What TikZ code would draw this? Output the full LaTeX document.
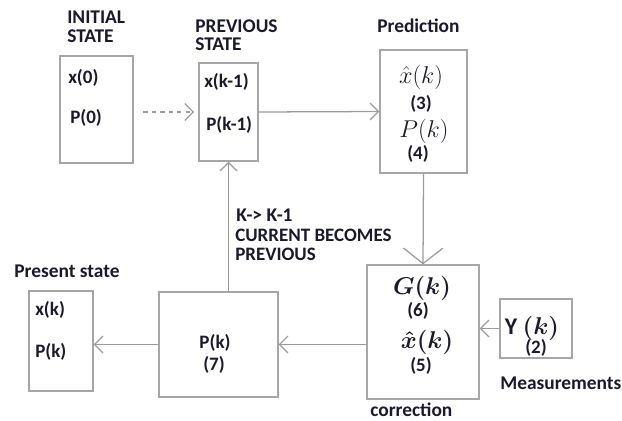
\documentclass[tikz,border=0pt]{standalone}
\usepackage{fontspec}
\usepackage{amsmath}
\setmainfont{Carlito}
\usetikzlibrary{arrows.meta}

\definecolor{linegray}{HTML}{9C9C9C}
\definecolor{boxgray}{HTML}{A6A6A6}
\definecolor{inkblue}{HTML}{1A1A2C}

\tikzset{
  blk/.style={draw=boxgray, line width=0.9pt, inner sep=0pt},
  lbl/.style={font=\bfseries\fontsize{13.8}{13.2}\selectfont, text=inkblue, align=left, inner sep=0pt},
  val/.style={font=\bfseries\fontsize{13.5}{14}\selectfont, text=inkblue, inner sep=0pt},
  eqn/.style={font=\fontsize{17}{18}\selectfont, text=inkblue, inner sep=0pt},
  flow/.style={draw=linegray, line width=0.9pt, -{Straight Barb[length=6pt,width=12pt]}},
}

\begin{document}
\begin{tikzpicture}[x=0.025cm, y=-0.025cm]

%\draw[help lines] (0,0) grid (622,420);
\useasboundingbox (0,0) rectangle (622,420);

%% Initial state
\node [lbl, anchor=north west] (initlbl) at (67,11) {INITIAL\\STATE};
\node [blk, minimum width=1.825cm, minimum height=2.675cm] (init) at (96.5,109.5) {};
\node [val, anchor=west] (x0) at (68,78) {x(0)};
\node [val, anchor=west] (p0) at (70,118) {P(0)};

%% Previous state
\node [lbl, anchor=north west] (prevlbl) at (195,19) {PREVIOUS\\STATE};
\node [blk, minimum width=1.475cm, minimum height=2.45cm] (prev) at (228.5,112) {};
\node [val, anchor=west] (xk1) at (204,82) {x(k-1)};
\node [val, anchor=west] (pk1) at (206,125) {P(k-1)};

%% Prediction
\node [lbl, anchor=north west] (predlbl) at (377,19) {Prediction};
\node [blk, minimum width=2.175cm, minimum height=3.075cm] (pred) at (423.5,111.5) {};
\node [eqn] (xhatp) at (421,77) {$\hat{x}(k)$};
\node [val] (eq3) at (421,104) {(3)};
\node [eqn] (pkp) at (424,131) {$P(k)$};
\node [val] (eq4) at (418,154) {(4)};

%% Correction
\node [blk, minimum width=2.8cm, minimum height=3.35cm] (corr) at (423,332) {};
\node [eqn] (gk) at (422,288) {$\boldsymbol{G(k)}$};
\node [val] (eq6) at (418,311) {(6)};
\node [eqn] (xhatc) at (427,342) {$\boldsymbol{\hat{x}(k)}$};
\node [val] (eq5) at (421,366) {(5)};
\node [lbl, anchor=north west] (corrlbl) at (370,403) {correction};

%% Measurements
\node [blk, minimum width=1.8cm, minimum height=1.475cm] (meas) at (536,328.5) {};
\node [eqn] (yk) at (532,328) {\bfseries Y $\boldsymbol{(k)}$};
\node [val] (eq2) at (536,348) {(2)};
\node [lbl, anchor=north west] (measlbl) at (500,377) {Measurements};

%% Covariance update
\node [blk, minimum width=2.975cm, minimum height=2.625cm] (pk) at (218.5,344.5) {};
\node [val] (pkc) at (215,343) {P(k)};
\node [val] (eq7) at (214,365) {(7)};

%% Present state
\node [lbl, anchor=north west] (preslbl) at (14,265) {Present state};
\node [blk, minimum width=1.6cm, minimum height=2.5cm] (pres) at (61,341) {};
\node [val, anchor=west] (xk) at (35,310) {x(k)};
\node [val, anchor=west] (pkk) at (35,352) {P(k)};

%% Shift label
\node [lbl, anchor=north west] (shift) at (236,209) {K-> K-1};
\node [lbl, anchor=north west, font=\bfseries\fontsize{13.5}{13}\selectfont] (becomes) at (235,229) {CURRENT BECOMES\\PREVIOUS};

%% Connectors
\draw [flow, dashed, shorten <=7pt, shorten >=3pt] (init.east |- prev) -- (prev.west);
\draw [flow] (prev.east) -- (pred.west);
\draw [flow, -{Straight Barb[length=11pt,width=28pt]}] (pred.south) -- (corr.north);
\draw [flow] (meas.west) -- (corr.east |- meas.west);
\draw [flow] (corr.west |- pk.east) -- (pk.east);
\draw [flow] (pk.west) -- (pres.east |- pk.west);
\draw [flow] (prev.south |- pk.north) -- (prev.south);

\end{tikzpicture}
\end{document}
